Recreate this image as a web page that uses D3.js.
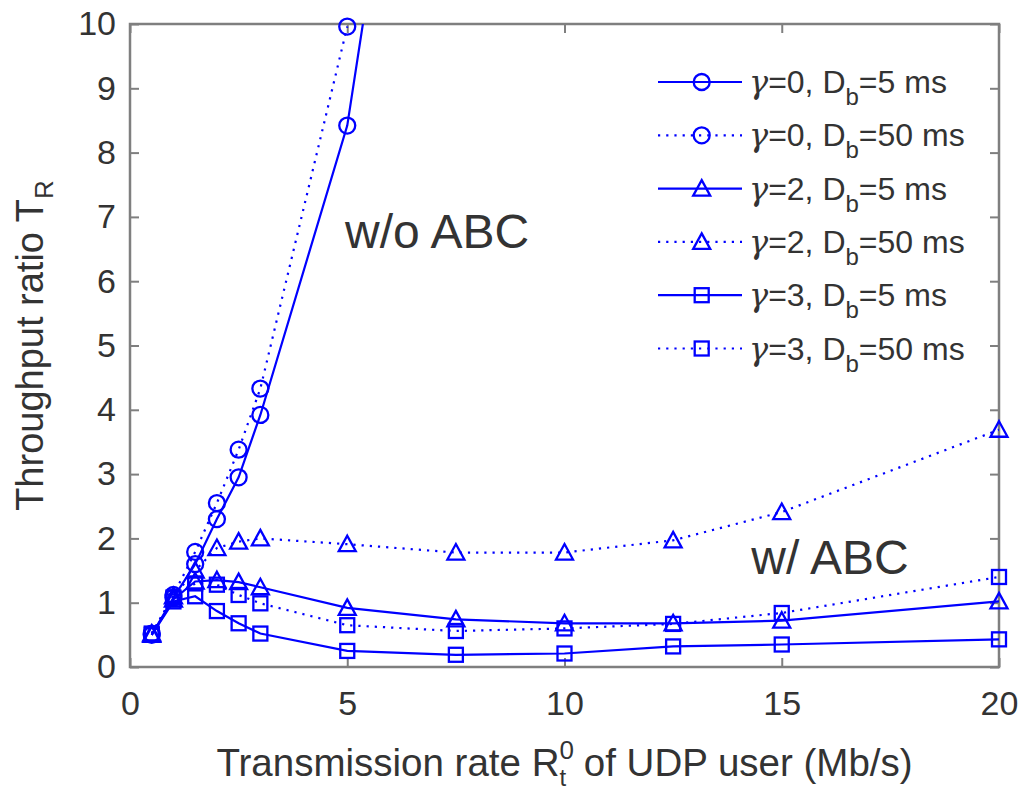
<!DOCTYPE html>
<html><head><meta charset="utf-8">
<script src="https://cdn.jsdelivr.net/npm/d3@7/dist/d3.min.js"></script>
<style>
html,body{margin:0;padding:0;background:#fff;}
svg{display:block;}
text{font-family:"Liberation Sans",Arial,Helvetica,sans-serif;fill:#333;}
</style></head>
<body><svg id="c" width="1022" height="793"></svg>
<script>
// ---- data ----
const xRate = [0.5, 1, 1.5, 2, 2.5, 3, 5, 7.5, 10, 12.5, 15, 20];
const g0_db5  = [0.50, 1.08, 1.60, 2.30, 2.95, 3.92, 8.42, 19.4];
const g0_db50 = [0.52, 1.12, 1.79, 2.55, 3.38, 4.33, 9.96];
const g2_db5  = [0.50, 1.05, 1.33, 1.35, 1.32, 1.24, 0.92, 0.74, 0.68, 0.68, 0.72, 1.02];
const g2_db50 = [0.52, 1.10, 1.50, 1.85, 1.95, 2.00, 1.91, 1.78, 1.78, 1.97, 2.41, 3.69];
const g3_db5  = [0.50, 1.02, 1.10, 0.87, 0.68, 0.52, 0.25, 0.19, 0.21, 0.32, 0.35, 0.43];
const g3_db50 = [0.52, 1.08, 1.30, 1.28, 1.12, 0.99, 0.65, 0.56, 0.60, 0.67, 0.84, 1.40];
const xTicks = [0, 5, 10, 15, 20];
const yTicks = [0, 1, 2, 3, 4, 5, 6, 7, 8, 9, 10];
const seriesDefs = [
  {gamma: "0", db: "5",  vals: g0_db5,  marker: "circle",   dotted: false},
  {gamma: "0", db: "50", vals: g0_db50, marker: "circle",   dotted: true},
  {gamma: "2", db: "5",  vals: g2_db5,  marker: "triangle", dotted: false},
  {gamma: "2", db: "50", vals: g2_db50, marker: "triangle", dotted: true},
  {gamma: "3", db: "5",  vals: g3_db5,  marker: "square",   dotted: false},
  {gamma: "3", db: "50", vals: g3_db50, marker: "square",   dotted: true}
];
const xLabelParts = ["Transmission rate R", "0", "t", " of UDP user (Mb/s)"];
const yLabelParts = ["Throughput ratio T", "R"];
const annotations = [{text: "w/o ABC", x: 4.95, y: 6.52}, {text: "w/ ABC", x: 14.3, y: 1.45}];

// ---- layout ----
const svg = d3.select("#c");
const L = 130, R = 999, T = 24, B = 667;
const x = d3.scaleLinear().domain([0, 20]).range([L, R]);
const y = d3.scaleLinear().domain([0, 10]).range([B, T]);
const blue = "#0000ff", axisCol = "#7f7f7f";

svg.append("defs").append("clipPath").attr("id", "clip")
  .append("rect").attr("x", L).attr("y", T).attr("width", R - L).attr("height", B - T);

// axes
function styleAxis(g, labels) {
  g.select(".domain").remove();
  g.selectAll(".tick line").attr("stroke", axisCol).attr("stroke-width", 2);
  g.selectAll(".tick text").attr("font-size", 34).attr("fill", "#333")
    .style("font-family", '"Liberation Sans",Arial,sans-serif');
  if (!labels) g.selectAll(".tick text").remove();
}
svg.append("g").attr("transform", `translate(0,${B})`)
  .call(d3.axisBottom(x).tickValues(xTicks).tickSize(-9).tickPadding(24).tickFormat(d3.format("d")))
  .call(g => styleAxis(g, true));
svg.append("g").attr("transform", `translate(0,${T})`)
  .call(d3.axisTop(x).tickValues(xTicks).tickSize(-9)).call(g => styleAxis(g, false));
svg.append("g").attr("transform", `translate(${L},0)`)
  .call(d3.axisLeft(y).tickValues(yTicks).tickSize(-9).tickPadding(14).tickFormat(d3.format("d")))
  .call(g => styleAxis(g, true));
svg.append("g").attr("transform", `translate(${R},0)`)
  .call(d3.axisRight(y).tickValues(yTicks).tickSize(-9)).call(g => styleAxis(g, false));
svg.append("rect").attr("x", L).attr("y", T).attr("width", R - L).attr("height", B - T)
  .attr("fill", "none").attr("stroke", axisCol).attr("stroke-width", 2.5);

// markers
function drawMarker(g, type, cx, cy) {
  const st = {fill: "none", stroke: blue, "stroke-width": 2.3};
  let m;
  if (type === "circle") m = g.append("circle").attr("cx", cx).attr("cy", cy).attr("r", 8);
  else if (type === "square") m = g.append("rect").attr("x", cx - 7).attr("y", cy - 7).attr("width", 14).attr("height", 14);
  else m = g.append("path").attr("d", `M${cx},${cy - 8.5}L${cx + 8.5},${cy + 7}L${cx - 8.5},${cy + 7}Z`);
  for (const k in st) m.attr(k, st[k]);
}

const line = d3.line().x(d => x(d[0])).y(d => y(d[1]));
seriesDefs.forEach(s => {
  const pts = s.vals.map((v, i) => [xRate[i], v]);
  svg.append("path").datum(pts).attr("clip-path", "url(#clip)")
    .attr("d", line).attr("fill", "none").attr("stroke", blue).attr("stroke-width", 2.2)
    .attr("stroke-dasharray", s.dotted ? "2.2,6" : null);
  const mg = svg.append("g");
  pts.filter(p => p[1] <= 10).forEach(p => drawMarker(mg, s.marker, x(p[0]), y(p[1])));
});

// legend
const lg = svg.append("g");
seriesDefs.forEach((s, i) => {
  const ly = 82 + i * 53.3;
  lg.append("line").attr("x1", 658).attr("x2", 742).attr("y1", ly).attr("y2", ly)
    .attr("stroke", blue).attr("stroke-width", 2.2).attr("stroke-dasharray", s.dotted ? "2.2,6" : null);
  drawMarker(lg, s.marker, 701.7, ly);
  const t = lg.append("text").attr("x", 749).attr("y", ly + 11).attr("font-size", 32);
  t.append("tspan").style("font-family", '"DejaVu Serif",serif').attr("font-style", "italic").text("γ");
  t.append("tspan").text(`=${s.gamma}, D`);
  t.append("tspan").attr("font-size", 24).attr("dy", 12).text("b");
  t.append("tspan").attr("dy", -12).text(`=${s.db} ms`);
});

// annotations
annotations.forEach(a => {
  svg.append("text").attr("x", x(a.x)).attr("y", y(a.y)).attr("font-size", 48)
    .attr("text-anchor", "start").text(a.text);
});

// x label
const xl = svg.append("text").attr("x", (L + R) / 2).attr("y", 776).attr("font-size", 38.5).attr("text-anchor", "middle");
xl.append("tspan").text(xLabelParts[0]);
xl.append("tspan").attr("font-size", 26).attr("dy", -17).text(xLabelParts[1]);
xl.append("tspan").attr("font-size", 24).attr("dx", -14.5).attr("dy", 27).text(xLabelParts[2]);
xl.append("tspan").attr("dx", 7).attr("dy", -10).text(xLabelParts[3]);

// y label
const yl = svg.append("text").attr("transform", `translate(43,${(T + B) / 2}) rotate(-90)`)
  .attr("font-size", 38).attr("text-anchor", "middle");
yl.append("tspan").text(yLabelParts[0]);
yl.append("tspan").attr("font-size", 26).attr("dy", 10).text(yLabelParts[1]);
</script></body></html>
